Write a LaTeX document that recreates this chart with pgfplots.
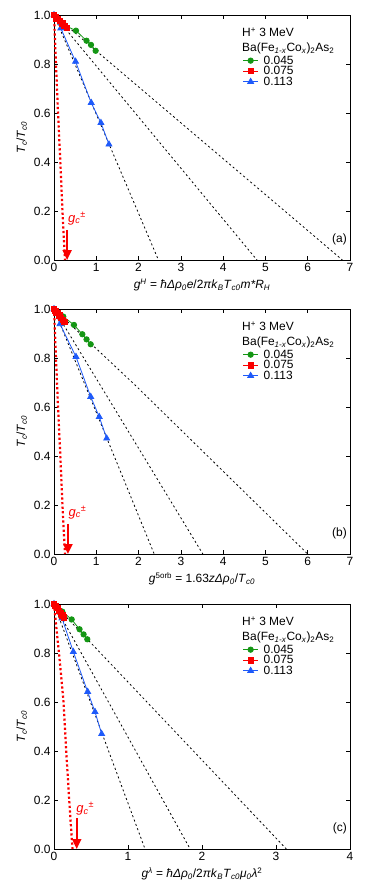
\documentclass[border=0pt]{standalone}
\usepackage{fontspec}
\setmainfont{Liberation Sans}
\usepackage{pgfplots}
\pgfplotsset{compat=1.18}
\usetikzlibrary{arrows.meta}

\definecolor{cgreen}{RGB}{20,150,20}
\definecolor{cred}{RGB}{250,0,0}
\definecolor{cblue}{RGB}{30,90,250}

\newcommand{\subi}[1]{\textsubscript{\textit{#1}}}
\newcommand{\supi}[1]{\textsuperscript{\textit{#1}}}

\pgfplotsset{
  panel/.style={
    scale only axis, width=296bp, height=245bp, anchor=north west,
    xmin=0, ymin=0, ymax=1, ytick={0,0.2,0.4,0.6,0.8,1},
    axis line style={line width=0.8bp},
    major tick length=4bp,
    every tick/.style={line width=0.6bp,black},
    tick label style={font=\fontsize{12}{14}\selectfont},
    label style={font=\fontsize{12}{14}\selectfont},
    /pgf/number format/assume math mode=true,
    yticklabel style={/pgf/number format/.cd,fixed,fixed zerofill,precision=1},
    ylabel={\textit{T}\subi{c}/\textit{T}\subi{c0}},
    clip=false,
    legend cell align=left,
    legend style={at={(0.637,0.837)},anchor=north west,draw=none,fill=none,
      font=\fontsize{12}{12}\selectfont,row sep=-0.5bp,column sep=4.5bp,inner sep=0pt,
      nodes={inner sep=0.6bp}},
    legend image code/.code={\draw[mark repeat=2,mark phase=2]
      plot coordinates {(0bp,0bp)(7.5bp,0bp)(15bp,0bp)};},
  },
  gser/.style={cgreen,line width=0.8bp,mark=*,mark size=2.7bp},
  rser/.style={cred,line width=0.8bp,mark=square*,mark size=2.7bp},
  bser/.style={cblue,line width=0.8bp,mark=triangle*,mark size=3.4bp},
  dline/.style={black,line width=0.8bp,dash pattern=on 2bp off 2.6bp,forget plot},
  rdot/.style={cred,line width=2.2bp,dash pattern=on 2.2bp off 2.4bp,forget plot},
}
\tikzset{
  gcarrow/.style={cred,line width=2bp,-{Triangle[width=9bp,length=10bp]}},
  gclab/.style={text=cred,anchor=base west,font=\fontsize{13}{13}\selectfont,inner sep=0pt},
  hdr/.style={anchor=base west,font=\fontsize{12}{12}\selectfont,inner sep=0pt},
  plab/.style={anchor=east,font=\fontsize{12}{12}\selectfont,inner sep=0pt},
}

\newcommand{\legendblock}{%
  \addlegendimage{gser}\addlegendentry{0.045}
  \addlegendimage{rser}\addlegendentry{0.075}
  \addlegendimage{bser}\addlegendentry{0.113}
  \node[hdr] at (rel axis cs:0.635,0.912) {H\textsuperscript{+} 3 MeV};
  \node[hdr] at (rel axis cs:0.635,0.850) {Ba(Fe\subi{1-x}Co\subi{x})\textsubscript{2}As\textsubscript{2}};
}

\begin{document}
\begin{tikzpicture}
\useasboundingbox (0bp,0bp) rectangle (382bp,-896bp);

% (a)
\begin{axis}[panel, at={(54bp,-15bp)}, xmax=7, xtick={0,1,2,3,4,5,6,7},
  xlabel={\textit{g}\supi{H} = \textit{ħΔρ}\subi{0}\textit{e}/2\textit{πk}\subi{B}\textit{T}\subi{c0}\textit{m*R}\subi{H}}]
\addplot[dline] coordinates {(0,1)(2.47,0)};
\addplot[dline] coordinates {(0,1)(4.80,0)};
\addplot[dline] coordinates {(0,1)(6.82,0)};
\legendblock
\addplot[gser,forget plot] coordinates {(0,1)(0.24,0.959)(0.52,0.936)(0.77,0.895)(0.875,0.878)(0.985,0.854)};
\addplot[bser,forget plot] coordinates {(0,1)(0.16,0.946)(0.51,0.81)(0.88,0.642)(1.11,0.56)(1.30,0.472)};
\addplot[rser,forget plot] coordinates {(0,1)(0.04,0.993)(0.09,0.983)(0.14,0.975)(0.20,0.965)(0.25,0.955)(0.30,0.947)};
\addplot[rdot] coordinates {(0,1)(0.047,0.8)(0.095,0.6)(0.145,0.42)(0.20,0.2)(0.26,0)};
\draw[gcarrow] (axis cs:0.31,0.123) -- (axis cs:0.31,0);
\node[gclab] at (axis cs:0.33,0.155) {\textit{g}\subi{c}\textsuperscript{±}};
\node[plab] at (rel axis cs:0.99,0.086) {(a)};
\end{axis}

% (b)
\begin{axis}[panel, at={(54bp,-309bp)}, xmax=7, xtick={0,1,2,3,4,5,6,7},
  xlabel={\textit{g}\textsuperscript{5orb} = 1.63\textit{zΔρ}\subi{0}/\textit{T}\subi{c0}}]
\addplot[dline] coordinates {(0,1)(2.37,0)};
\addplot[dline] coordinates {(0,1)(3.52,0)};
\addplot[dline] coordinates {(0,1)(1.915,0.69)(6.0,0)};
\legendblock
\addplot[gser,forget plot] coordinates {(0,1)(0.22,0.969)(0.473,0.935)(0.67,0.897)(0.77,0.876)(0.868,0.856)};
\addplot[bser,forget plot] coordinates {(0,1)(0.142,0.939)(0.52,0.805)(0.868,0.642)(1.07,0.56)(1.246,0.472)};
\addplot[rser,forget plot] coordinates {(0,1)(0.035,0.993)(0.08,0.983)(0.125,0.974)(0.17,0.964)(0.21,0.955)(0.25,0.948)};
\addplot[rdot] coordinates {(0,1)(0.047,0.8)(0.095,0.6)(0.145,0.42)(0.20,0.2)(0.26,0)};
\draw[gcarrow] (axis cs:0.33,0.123) -- (axis cs:0.33,0);
\node[gclab] at (axis cs:0.34,0.155) {\textit{g}\subi{c}\textsuperscript{±}};
\node[plab] at (rel axis cs:0.99,0.086) {(b)};
\end{axis}

% (c)
\begin{axis}[panel, at={(54bp,-604bp)}, xmax=4, xtick={0,1,2,3,4},
  xlabel={\textit{g}\supi{λ} = \textit{ħΔρ}\subi{0}/2\textit{πk}\subi{B}\textit{T}\subi{c0}\textit{μ}\subi{0}\textit{λ}\textsuperscript{2}}]
\addplot[dline] coordinates {(0,1)(1.23,0)};
\addplot[dline] coordinates {(0,1)(1.84,0)};
\addplot[dline] coordinates {(0,1)(3.14,0)};
\legendblock
\addplot[gser,forget plot] coordinates {(0,1)(0.112,0.969)(0.239,0.937)(0.345,0.897)(0.40,0.876)(0.45,0.856)};
\addplot[bser,forget plot] coordinates {(0,1)(0.108,0.942)(0.261,0.805)(0.455,0.642)(0.554,0.56)(0.644,0.47)};
\addplot[rser,forget plot] coordinates {(0,1)(0.02,0.993)(0.045,0.983)(0.07,0.973)(0.095,0.962)(0.115,0.953)(0.13,0.946)};
\addplot[rdot] coordinates {(0,1)(0.08,0.76)(0.126,0.61)(0.165,0.4)(0.216,0.15)(0.25,0)};
\draw[gcarrow] (axis cs:0.307,0.125) -- (axis cs:0.307,0);
\node[gclab] at (axis cs:0.30,0.15) {\textit{g}\subi{c}\textsuperscript{±}};
\node[plab] at (rel axis cs:0.99,0.086) {(c)};
\end{axis}
\end{tikzpicture}
\end{document}
